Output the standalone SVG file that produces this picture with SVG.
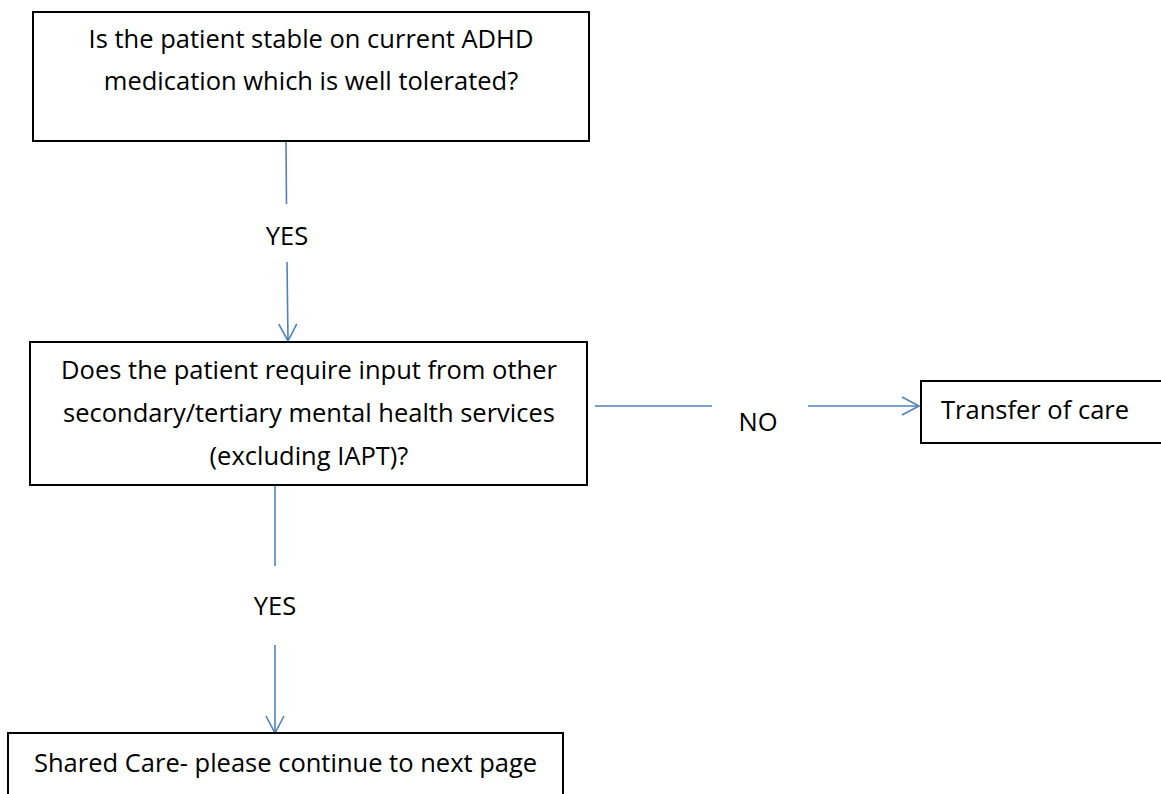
<svg xmlns="http://www.w3.org/2000/svg" width="1161" height="794" viewBox="0 0 1161 794">
<style>
.box{fill:#fff;stroke:#000;stroke-width:2}
.t{font-family:"Open Sans","Liberation Sans",Arial,sans-serif;font-size:25.5px;fill:#000}
.c{text-anchor:middle}
.ln{stroke:#4f81bd;stroke-width:1.6;fill:none}
</style>
<defs>
<marker id="arr" viewBox="0 0 20 20" refX="18" refY="10" markerWidth="20" markerHeight="20" markerUnits="userSpaceOnUse" orient="auto">
<path d="M1,1 L18,10 L1,19" fill="none" stroke="#4f81bd" stroke-width="1.6"/>
</marker>
</defs>
<rect width="1161" height="794" fill="#fff"/>
<g id="connectors">
<line class="ln" x1="286" y1="142" x2="286.5" y2="204"/>
<line class="ln" x1="287" y1="262" x2="288" y2="341" marker-end="url(#arr)"/>
<text class="t c" x="287" y="245">YES</text>
<line class="ln" x1="595" y1="406" x2="712" y2="406"/>
<line class="ln" x1="808" y1="406" x2="919" y2="406" marker-end="url(#arr)"/>
<text class="t c" x="758" y="431">NO</text>
<line class="ln" x1="275" y1="486" x2="275" y2="566"/>
<line class="ln" x1="275" y1="645" x2="275" y2="733" marker-end="url(#arr)"/>
<text class="t c" x="275" y="615">YES</text>
</g>
<g id="node1">
<rect class="box" x="33" y="12" width="556" height="129"/>
<text class="t c" x="311" y="48">Is the patient stable on current ADHD</text>
<text class="t c" x="311" y="90">medication which is well tolerated?</text>
</g>
<g id="node2">
<rect class="box" x="30" y="342" width="557" height="143"/>
<text class="t c" x="309" y="379">Does the patient require input from other</text>
<text class="t c" x="309" y="422">secondary/tertiary mental health services</text>
<text class="t c" x="309" y="465">(excluding IAPT)?</text>
</g>
<g id="node3">
<rect class="box" x="921" y="381" width="250" height="62"/>
<text class="t" x="941" y="419">Transfer of care</text>
</g>
<g id="node4">
<rect class="box" x="8" y="733" width="555" height="70"/>
<text class="t" x="34" y="772">Shared Care- please continue to next page</text>
</g>
</svg>
